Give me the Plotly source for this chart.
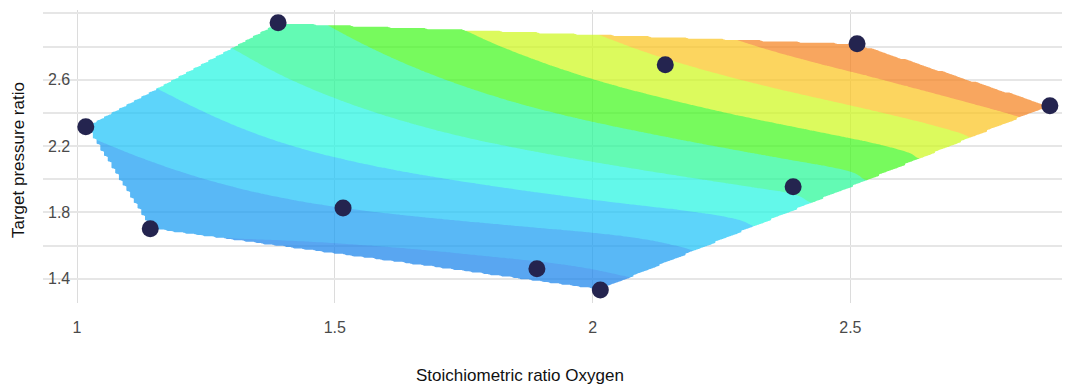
import numpy as np
import plotly.graph_objects as go

# ---- data ----
stoich_o2 = [1.017, 1.142, 1.390, 1.516, 1.892, 2.015, 2.141, 2.389, 2.513, 2.887]
pressure_ratio = [2.316, 1.701, 2.943, 1.827, 1.460, 1.333, 2.690, 1.954, 2.817, 2.443]
response = [2.1, 1.05, 4.65, 2.0, 0.8, 0.55, 6.85, 4.2, 8.85, 8.6]

x_tick_vals = [1, 1.5, 2, 2.5]
x_tick_text = ["1", "1.5", "2", "2.5"]
y_tick_vals = [1.4, 1.6, 1.8, 2.0, 2.2, 2.4, 2.6, 2.8, 3.0]
y_tick_text = ["1.4", "", "1.8", "", "2.2", "", "2.6", "", ""]

x_title = "Stoichiometric ratio Oxygen"
y_title = "Target pressure ratio"

band_colors = ["rgb(19,128,236)", "rgb(19,154,242)", "rgb(25,194,248)", "rgb(34,245,225)",
               "rgb(34,248,148)", "rgb(62,248,25)", "rgb(205,248,25)", "rgb(251,196,28)",
               "rgb(245,128,28)"]


# ---- Delaunay triangulation (Bowyer-Watson) ----
def delaunay(xs, ys):
    pts = list(zip(xs, ys))
    n = len(pts)
    minx, maxx, miny, maxy = min(xs), max(xs), min(ys), max(ys)
    d = max(maxx - minx, maxy - miny) * 30
    cx, cy = (minx + maxx) / 2, (miny + maxy) / 2
    allp = pts + [(cx - d, cy - d), (cx + d, cy - d), (cx, cy + d)]
    tris = [(n, n + 1, n + 2)]

    def circ(t):
        (ax, ay), (bx, by), (qx, qy) = allp[t[0]], allp[t[1]], allp[t[2]]
        D = 2 * (ax * (by - qy) + bx * (qy - ay) + qx * (ay - by))
        ux = ((ax * ax + ay * ay) * (by - qy) + (bx * bx + by * by) * (qy - ay) + (qx * qx + qy * qy) * (ay - by)) / D
        uy = ((ax * ax + ay * ay) * (qx - bx) + (bx * bx + by * by) * (ax - qx) + (qx * qx + qy * qy) * (bx - ax)) / D
        return ux, uy, (ax - ux) ** 2 + (ay - uy) ** 2

    for i, (x, y) in enumerate(pts):
        bad = []
        for t in tris:
            ux, uy, r2 = circ(t)
            if (x - ux) ** 2 + (y - uy) ** 2 < r2:
                bad.append(t)
        edges = {}
        for t in bad:
            for e in ((t[0], t[1]), (t[1], t[2]), (t[2], t[0])):
                k = tuple(sorted(e))
                edges[k] = edges.get(k, 0) + 1
        tris = [t for t in tris if t not in bad]
        for e, c in edges.items():
            if c == 1:
                tris.append((e[0], e[1], i))
    return [t for t in tris if max(t) < n]


# ---- Clough-Tocher cubic interpolation (as scipy griddata method="cubic") ----
def clough_tocher_grid(xs, ys, zs, nx=260, ny=200):
    P = np.column_stack([xs, ys]).astype(float)
    zs = np.asarray(zs, float)
    n = len(P)
    tris = delaunay(list(xs), list(ys))

    nbrs = [set() for _ in range(n)]
    for t in tris:
        for a in t:
            for b in t:
                if a != b:
                    nbrs[a].add(b)

    grad = np.zeros((n, 2))
    for _ in range(400):
        err = 0.0
        for i in range(n):
            Q0 = Q1 = Q3 = s0 = s1 = 0.0
            for j in sorted(nbrs[i]):
                ex, ey = P[j] - P[i]
                L3 = (ex * ex + ey * ey) ** 1.5
                df2 = -ex * grad[j, 0] - ey * grad[j, 1]
                Q0 += 4 * ex * ex / L3
                Q1 += 4 * ex * ey / L3
                Q3 += 4 * ey * ey / L3
                s0 += (6 * (zs[i] - zs[j]) - 2 * df2) * ex / L3
                s1 += (6 * (zs[i] - zs[j]) - 2 * df2) * ey / L3
            det = Q0 * Q3 - Q1 * Q1
            r0 = (Q3 * s0 - Q1 * s1) / det
            r1 = (-Q1 * s0 + Q0 * s1) / det
            change = max(abs(grad[i, 0] + r0), abs(grad[i, 1] + r1))
            grad[i] = [-r0, -r1]
            change /= max(1.0, abs(r0), abs(r1))
            err = max(err, change)
        if err < 1e-6:
            break

    edge_tris = {}
    for ti, t in enumerate(tris):
        for k in range(3):
            e = tuple(sorted((t[(k + 1) % 3], t[(k + 2) % 3])))
            edge_tris.setdefault(e, []).append(ti)

    def bary(t, X, Y):
        (x1, y1), (x2, y2), (x3, y3) = P[t[0]], P[t[1]], P[t[2]]
        det = (y2 - y3) * (x1 - x3) + (x3 - x2) * (y1 - y3)
        l1 = ((y2 - y3) * (X - x3) + (x3 - x2) * (Y - y3)) / det
        l2 = ((y3 - y1) * (X - x3) + (x1 - x3) * (Y - y3)) / det
        return l1, l2, 1 - l1 - l2

    gx = np.linspace(min(xs), max(xs), nx)
    gy = np.linspace(min(ys), max(ys), ny)
    GX, GY = np.meshgrid(gx, gy)
    Z = np.full(GX.shape, np.nan)

    for ti, t in enumerate(tris):
        p0, p1, p2 = P[t[0]], P[t[1]], P[t[2]]
        e12, e23, e31 = p1 - p0, p2 - p1, p0 - p2
        f1, f2, f3 = zs[t[0]], zs[t[1]], zs[t[2]]
        d1, d2, d3 = grad[t[0]], grad[t[1]], grad[t[2]]
        df12 = d1 @ e12
        df21 = -(d2 @ e12)
        df23 = d2 @ e23
        df32 = -(d3 @ e23)
        df31 = d3 @ e31
        df13 = -(d1 @ e31)
        c3000 = f1
        c2100 = (df12 + 3 * c3000) / 3
        c2010 = (df13 + 3 * c3000) / 3
        c0300 = f2
        c1200 = (df21 + 3 * c0300) / 3
        c0210 = (df23 + 3 * c0300) / 3
        c0030 = f3
        c1020 = (df31 + 3 * c0030) / 3
        c0120 = (df32 + 3 * c0030) / 3
        c2001 = (c2100 + c2010 + c3000) / 3
        c0201 = (c1200 + c0300 + c0210) / 3
        c0021 = (c1020 + c0120 + c0030) / 3
        g = [0.0, 0.0, 0.0]
        for k in range(3):
            e = tuple(sorted((t[(k + 1) % 3], t[(k + 2) % 3])))
            others = [o for o in edge_tris[e] if o != ti]
            if not others:
                g[k] = -0.5
                continue
            cen = P[list(tris[others[0]])].mean(axis=0)
            c = bary(t, cen[0], cen[1])
            if k == 0:
                g[k] = (2 * c[2] + c[1] - 1) / (2 - 3 * c[2] - 3 * c[1])
            elif k == 1:
                g[k] = (2 * c[0] + c[2] - 1) / (2 - 3 * c[0] - 3 * c[2])
            else:
                g[k] = (2 * c[1] + c[0] - 1) / (2 - 3 * c[1] - 3 * c[0])
        c0111 = (g[0] * (-c0300 + 3 * c0210 - 3 * c0120 + c0030) + (-c0300 + 2 * c0210 - c0120 + c0021 + c0201)) / 2
        c1011 = (g[1] * (-c0030 + 3 * c1020 - 3 * c2010 + c3000) + (-c0030 + 2 * c1020 - c2010 + c2001 + c0021)) / 2
        c1101 = (g[2] * (-c3000 + 3 * c2100 - 3 * c1200 + c0300) + (-c3000 + 2 * c2100 - c1200 + c2001 + c0201)) / 2
        c1002 = (c1101 + c1011 + c2001) / 3
        c0102 = (c1101 + c0111 + c0201) / 3
        c0012 = (c1011 + c0111 + c0021) / 3
        c0003 = (c1002 + c0102 + c0012) / 3

        l1, l2, l3 = bary(t, GX, GY)
        eps = -1e-9
        inside = (l1 >= eps) & (l2 >= eps) & (l3 >= eps)
        b = np.stack([l1[inside], l2[inside], l3[inside]])
        mn = b.min(axis=0)
        b1, b2, b3 = b[0] - mn, b[1] - mn, b[2] - mn
        b4 = 3 * mn
        w = (b1 ** 3 * c3000 + 3 * b1 ** 2 * b2 * c2100 + 3 * b1 ** 2 * b3 * c2010 +
             3 * b1 ** 2 * b4 * c2001 + 3 * b1 * b2 ** 2 * c1200 +
             6 * b1 * b2 * b4 * c1101 + 3 * b1 * b3 ** 2 * c1020 + 6 * b1 * b3 * b4 * c1011 +
             3 * b1 * b4 ** 2 * c1002 + b2 ** 3 * c0300 + 3 * b2 ** 2 * b3 * c0210 +
             3 * b2 ** 2 * b4 * c0201 + 3 * b2 * b3 ** 2 * c0120 + 6 * b2 * b3 * b4 * c0111 +
             3 * b2 * b4 ** 2 * c0102 + b3 ** 3 * c0030 + 3 * b3 ** 2 * b4 * c0021 +
             3 * b3 * b4 ** 2 * c0012 + b4 ** 3 * c0003)
        Z[inside] = w
    return gx, gy, Z


gx, gy, Z = clough_tocher_grid(stoich_o2, pressure_ratio, response)
z_list = [[None if np.isnan(v) else round(float(v), 4) for v in row] for row in Z]

nb = len(band_colors)
colorscale = []
for k, c in enumerate(band_colors):
    colorscale.append([k / nb, c])
    colorscale.append([(k + 1) / nb, c])

fig = go.Figure()
fig.add_trace(go.Contour(
    x=gx.tolist(), y=gy.tolist(), z=z_list,
    colorscale=colorscale, zmin=0, zmax=nb, zauto=False,
    autocontour=False,
    contours=dict(start=1, end=nb - 1, size=1, coloring="fill", showlines=False),
    line=dict(width=0),
    connectgaps=False,
    opacity=0.7,
    showscale=False,
    hoverinfo="skip",
))
fig.add_trace(go.Scatter(
    x=stoich_o2, y=pressure_ratio, mode="markers",
    marker=dict(color="#24244f", size=17),
    showlegend=False,
))

tick_font = dict(family="Liberation Sans Narrow, Arial Narrow, Liberation Sans, Arial", size=16, color="#4a4a4a")
title_font = dict(family="Liberation Sans, Arial", size=17, color="#111")
# the page adds an 8px body margin, so the figure is 8px smaller than the window
fig.update_layout(
    width=1062, height=379,
    margin=dict(l=35, r=0, t=2, b=84, autoexpand=False),
    paper_bgcolor="white", plot_bgcolor="white",
    showlegend=False,
    xaxis=dict(
        range=[0.934, 2.926], tickvals=x_tick_vals, ticktext=x_tick_text,
        showgrid=True, gridcolor="#dcdcdc", gridwidth=1, zeroline=False,
        showline=False, ticks="outside", ticklen=10, tickcolor="rgba(0,0,0,0)",
        tickfont=tick_font, automargin=False,
    ),
    yaxis=dict(
        range=[1.254, 3.02], tickvals=y_tick_vals, ticktext=y_tick_text,
        showgrid=True, gridcolor="#e6e6e6", gridwidth=2, zeroline=False,
        showline=False, side="left", anchor="x",
        ticks="", ticklabelposition="inside", ticklabelstandoff=2,
        tickfont=tick_font, automargin=False,
    ),
    annotations=[
        dict(text=x_title, xref="paper", yref="paper", x=(520 - 43) / 1027, y=(303 - 375) / 293,
             xanchor="center", yanchor="middle", showarrow=False, font=title_font),
        dict(text=y_title, xref="paper", yref="paper", x=(18 - 43) / 1027, y=(303 - 160) / 293,
             xanchor="center", yanchor="middle", showarrow=False, textangle=-90, font=title_font),
    ],
)

fig.write_html("out.html")
